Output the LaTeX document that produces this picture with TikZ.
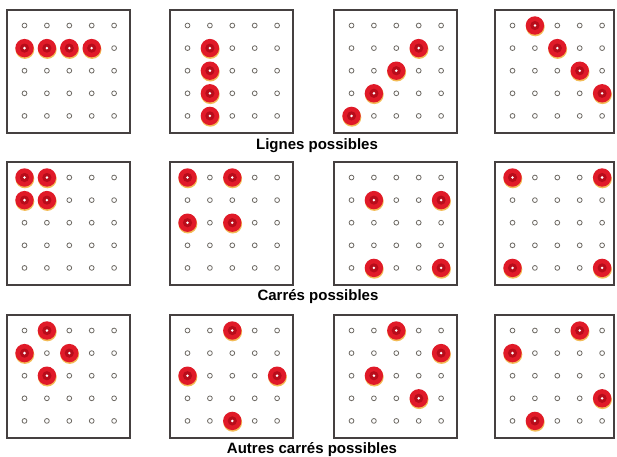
\documentclass[tikz,border=0pt]{standalone}
\usepackage{fontspec}
\setmainfont{Liberation Sans}
\definecolor{boardline}{HTML}{454040}
\definecolor{holeline}{HTML}{6E6A64}
\definecolor{pegred}{HTML}{E01A28}
\definecolor{pegdark}{HTML}{B80C1A}
\definecolor{pegglow}{HTML}{F2B13A}
\begin{document}
\begin{tikzpicture}[x=1pt,y=-1pt,
  board/.style={draw=boardline,line width=1.2pt,fill=white},
  hole/.style={draw=holeline,line width=0.8pt,fill=white},
  glow/.style={fill=pegglow,opacity=0.85},
  pegbody/.style={fill=pegred},
  pegcore/.style={fill=pegdark},
  pegdot/.style={fill=white},
  lab/.style={font=\fontsize{15}{18}\selectfont\bfseries,text=black,anchor=base,inner sep=0pt}]
\useasboundingbox[fill=white] (0,0) rectangle (617,456);
\foreach \col/\row/\P in {
 7/10/{1/0,1/1,1/2,1/3},
 170/10/{1/1,2/1,3/1,4/1},
 334/10/{1/3,2/2,3/1,4/0},
 495/10/{0/1,1/2,2/3,3/4},
 7/162/{0/0,0/1,1/0,1/1},
 170/162/{0/0,0/2,2/0,2/2},
 334/162/{1/1,1/4,4/1,4/4},
 495/162/{0/0,0/4,4/0,4/4},
 7/315/{0/1,1/0,1/2,2/1},
 170/315/{0/2,2/0,2/4,4/2},
 334/315/{0/2,1/4,2/1,3/3},
 495/315/{0/3,1/0,3/4,4/1}}
{
  \draw[board] (\col,\row) rectangle ({min(\col+123,614)},\row+123);
  \foreach \i in {0,...,4}
    \foreach \j in {0,...,4}
      \draw[hole] (\col+17.5+22.4*\i,\row+15.5+22.6*\j) circle[radius=2.4pt];
  \foreach \r/\c in \P {
    \coordinate (p) at (\col+17.5+22.4*\c,\row+15.5+22.6*\r);
    \coordinate (g) at (\col+17.9+22.4*\c,\row+16.9+22.6*\r);
    \fill[glow] (g) circle[radius=9.4pt];
    \fill[pegbody] (p) circle[radius=9.2pt];
    \fill[pegcore] (p) circle[radius=4.6pt];
    \fill[pegdot] (p) circle[radius=1.4pt];
  }
}
\node[lab] (l1) at (317,149) {Lignes possibles};
\node[lab] (l2) at (318,300) {Carrés possibles};
\node[lab] (l3) at (312,453) {Autres carrés possibles};
\end{tikzpicture}
\end{document}
